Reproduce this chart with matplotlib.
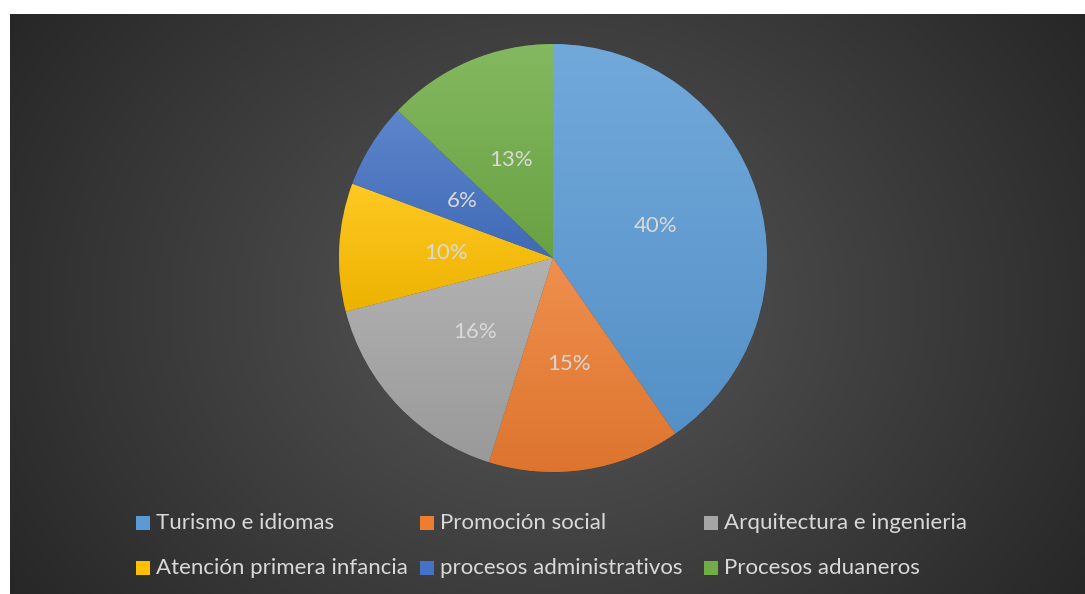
import numpy as np
import matplotlib
matplotlib.use("Agg")
import matplotlib.pyplot as plt
from matplotlib.patches import Rectangle
from matplotlib.colors import to_rgb

# ---- data ----
categories = ["Turismo e idiomas", "Promoción social", "Arquitectura e ingenieria",
              "Atención primera infancia", "procesos administrativos", "Procesos aduaneros"]
counts = [25, 9, 10, 6, 4, 8]
colors = ["#5B9BD5", "#ED7D31", "#A5A5A5", "#FFC000", "#4472C4", "#70AD47"]

W, H = 1085, 594
fig = plt.figure(figsize=(W / 100, H / 100), dpi=100)
fig.patch.set_facecolor("white")

FONT = ["Lato", "DejaVu Sans"]
TXT = "#d9d9d9"

# ---- background with radial gradient ----
bx0, by0 = 10, 14
bg = fig.add_axes([bx0 / W, 0, (W - bx0) / W, (H - by0) / H])
bg.set_axis_off()
ny, nx = 300, 540
yy, xx = np.mgrid[0:ny, 0:nx]
cx, cy = nx * 0.50, ny * 0.50
d = np.sqrt(((xx - cx) / (nx * 0.62)) ** 2 + ((yy - cy) / (ny * 0.95)) ** 2)
d = np.clip(d, 0, 1)
c_in = np.array([0x58, 0x58, 0x58]) / 255
c_out = np.array([0x25, 0x25, 0x25]) / 255
img = c_in[None, None, :] * (1 - d[..., None]) + c_out[None, None, :] * d[..., None]
bg.imshow(img, extent=[0, 1, 0, 1], aspect="auto", interpolation="bilinear")
bg.set_xlim(0, 1)
bg.set_ylim(0, 1)

# ---- pie ----
pcx, pcy, r = 553, 258, 214
ax = fig.add_axes([(pcx - r) / W, (H - pcy - r) / H, 2 * r / W, 2 * r / H])
ax.set_axis_off()
wedges, texts, autotexts = ax.pie(
    counts, colors=colors, startangle=90, counterclock=False,
    autopct=lambda p: f"{p:.0f}%", pctdistance=0.5, radius=1,
    wedgeprops=dict(linewidth=0.4, edgecolor="#3a3a3a"),
    textprops=dict(color=TXT, fontsize=16, family=FONT))
ax.set_xlim(-1, 1)
ax.set_ylim(-1, 1)
ax.set_aspect("equal")

# vertical gradient fill for each wedge
for w, c in zip(wedges, colors):
    base = np.array(to_rgb(c))
    top = base + (1 - base) * 0.14
    bot = base * 0.93
    verts = w.get_path().vertices
    tr = w.get_patch_transform()
    pts = tr.transform(verts)
    y0, y1 = pts[:, 1].min(), pts[:, 1].max()
    x0, x1 = pts[:, 0].min(), pts[:, 0].max()
    t = np.linspace(0, 1, 100)[:, None]
    grad = top[None, :] * (1 - t) + bot[None, :] * t
    grad = grad[:, None, :]
    im = ax.imshow(grad, extent=[x0, x1, y0, y1], aspect="auto",
                   interpolation="bilinear", zorder=w.get_zorder() + 0.1)
    im.set_clip_path(w)
for t_ in autotexts:
    t_.set_zorder(10)
ax.set_xlim(-1, 1)
ax.set_ylim(-1, 1)

# ---- legend (Excel-style fixed columns) ----
col_x = [136, 420, 704]
row_y = [523, 568]
order = [0, 1, 2, 3, 4, 5]
sq = 14
for k, idx in enumerate(order):
    row, col = divmod(k, 3)
    x, y = col_x[col], row_y[row]
    fig.patches.append(Rectangle((x / W, (H - y - sq / 2) / H), sq / W, sq / H,
                                 transform=fig.transFigure, facecolor=colors[idx],
                                 edgecolor="none"))
    fig.text((x + sq + 6) / W, (H - y) / H, categories[idx], color=TXT,
             fontsize=16, family=FONT, va="center", ha="left")

fig.savefig("out.png", dpi=100, facecolor=fig.get_facecolor())
